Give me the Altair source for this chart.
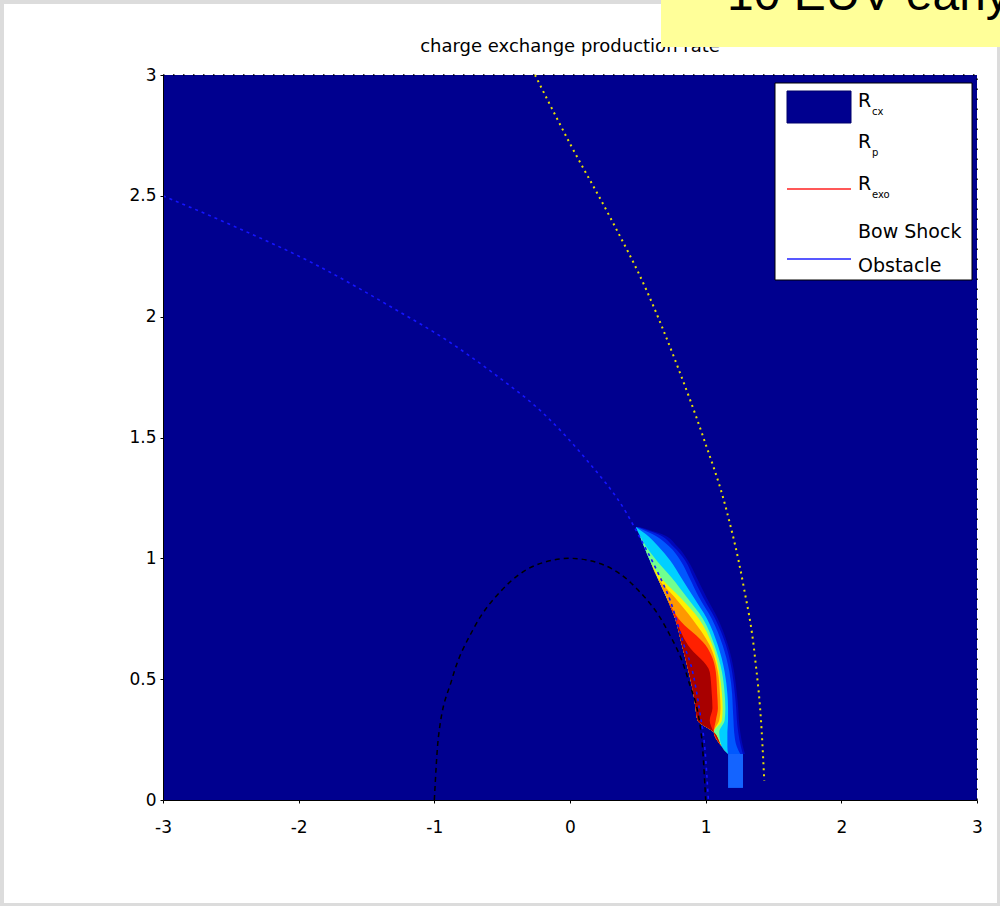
import altair as alt
import pandas as pd

# ---- axis ticks ----
x_ticks = [-3, -2, -1, 0, 1, 2, 3]
y_ticks = [0, 0.5, 1, 1.5, 2, 2.5, 3]

# ---- planet surface R_p ----
planet_x = [-1.0, -0.97, -0.87, -0.71, -0.5, -0.26, 0.0, 0.26, 0.5, 0.71, 0.87, 0.97, 1.0]
planet_y = [0.0, 0.26, 0.5, 0.71, 0.87, 0.97, 1.0, 0.97, 0.87, 0.71, 0.5, 0.26, 0.0]

# ---- obstacle boundary ----
obstacle_x = [-3.0, -2.48, -1.87, -1.30, -0.91, -0.565, -0.197, 0.123, 0.418,
              0.516, 0.651, 0.737, 0.835, 0.909, 0.958, 0.995, 1.02]
obstacle_y = [2.50, 2.375, 2.214, 2.034, 1.903, 1.766, 1.600, 1.407, 1.186,
              1.085, 0.937, 0.828, 0.65, 0.518, 0.36, 0.207, 0.0]

# ---- bow shock ----
bow_x = [-0.258, 0.0, 0.295, 0.565, 0.786, 0.983, 1.155, 1.277, 1.364, 1.413, 1.432]
bow_y = [3.0, 2.716, 2.412, 2.108, 1.804, 1.50, 1.196, 0.892, 0.588, 0.283, 0.08]

# ---- charge exchange production rate: contour bands ----
# each band spans from the inner edge to the outer x of its level, per row y
band_y = [1.13, 1.10, 1.05, 0.99, 0.92, 0.84, 0.75, 0.64, 0.53, 0.44, 0.38, 0.33, 0.28, 0.22, 0.19]
band_inner = [0.485, 0.51, 0.545, 0.59, 0.645, 0.71, 0.775, 0.825, 0.875, 0.91, 0.925, 0.94, 1.06, 1.12, 1.165]
band_levels = [0.04, 0.08, 0.2, 0.33, 0.47, 0.6, 0.72, 0.85, 0.95]
band_outer = [
    [0.51, 0.68, 0.79, 0.87, 0.935, 1.005, 1.09, 1.165, 1.21, 1.23, 1.24, 1.245, 1.255, 1.275, 1.29],
    [0.50, 0.65, 0.76, 0.85, 0.91, 0.98, 1.07, 1.15, 1.195, 1.215, 1.225, 1.23, 1.24, 1.26, 1.275],
    [0.49, 0.61, 0.73, 0.815, 0.88, 0.95, 1.045, 1.125, 1.175, 1.195, 1.20, 1.205, 1.21, 1.23, 1.255],
    [0.485, 0.56, 0.65, 0.74, 0.82, 0.91, 1.01, 1.09, 1.14, 1.16, 1.165, 1.165, 1.16, 1.16, 1.165],
    [0.485, 0.51, 0.56, 0.64, 0.75, 0.86, 0.98, 1.065, 1.12, 1.14, 1.145, 1.14, 1.10, 1.12, 1.165],
    [0.485, 0.51, 0.545, 0.59, 0.67, 0.81, 0.95, 1.05, 1.10, 1.12, 1.125, 1.12, 1.06, 1.12, 1.165],
    [0.485, 0.51, 0.545, 0.59, 0.645, 0.77, 0.90, 1.03, 1.09, 1.105, 1.11, 1.10, 1.06, 1.12, 1.165],
    [0.485, 0.51, 0.545, 0.59, 0.645, 0.71, 0.80, 1.00, 1.075, 1.085, 1.09, 1.075, 1.06, 1.12, 1.165],
    [0.485, 0.51, 0.545, 0.59, 0.645, 0.71, 0.775, 0.87, 1.03, 1.045, 1.05, 1.03, 1.06, 1.12, 1.165],
]
band_colors = ["#0006B8", "#0020E0", "#0058FF", "#00D0FF", "#70FF90", "#FFF000",
               "#FF9800", "#FF2000", "#A80000"]

# low-altitude patch near the subsolar surface
patch_x = [1.165, 1.275]
patch_y = [0.05, 0.20]

# ---- legend and text ----
legend_labels = ["R", "R", "R", "Bow Shock", "Obstacle"]
legend_subs = ["cx", "p", "exo", "", ""]
title_text = "charge exchange production rate"
banner_text = "10 EUV early"

FONT = "DejaVu Sans"
W, H = 814, 725
xs = alt.Scale(domain=[-3, 3], nice=False, zero=False)
ys = alt.Scale(domain=[0, 3], nice=False, zero=False)
one = pd.DataFrame({"k": [0]})

# plain hyphen for negative tick labels
LABEL_EXPR = "datum.value < 0 ? '-' + toString(abs(datum.value)) : toString(datum.value)"


def axis(values, pad):
    return alt.Axis(values=values, labelExpr=LABEL_EXPR, title=None, grid=False,
                    domainColor="black", domainWidth=1, tickColor="black",
                    tickSize=3, labelFont=FONT, labelFontSize=17,
                    labelColor="black", labelPadding=pad, labelFlush=False,
                    labelOverlap=False, zindex=1)


AX = axis(x_ticks, 16)
AY = axis(y_ticks, 4)


def X(field):
    return alt.X(field, scale=xs, axis=AX)


def Y(field):
    return alt.Y(field, scale=ys, axis=AY)


layers = []

# white page inside a grey frame
layers.append(alt.Chart(one).mark_rect(color="white").encode(
    x=alt.value(-159), x2=alt.value(834), y=alt.value(-71), y2=alt.value(828)))

# navy field covering the plotting domain
field_df = pd.DataFrame({"x": [x_ticks[0]], "x2": [x_ticks[-1]],
                         "y": [y_ticks[0]], "y2": [y_ticks[-1]]})
layers.append(alt.Chart(field_df).mark_rect(color="#00008F").encode(
    x=X("x:Q"), x2="x2:Q", y=Y("y:Q"), y2="y2:Q"))

# production-rate bands, lowest level first
rows = []
for li, outer in enumerate(band_outer):
    for yy, xi, xo in zip(band_y, band_inner, outer):
        rows.append({"li": li, "y": yy, "xi": xi, "xo": xo})
bands_df = pd.DataFrame(rows)

patch_df = pd.DataFrame({"x": [patch_x[0]], "x2": [patch_x[1]],
                         "y": [patch_y[0]], "y2": [patch_y[1]]})
layers.append(alt.Chart(patch_df).mark_rect(color="#1464FF").encode(
    x=X("x:Q"), x2="x2:Q", y=Y("y:Q"), y2="y2:Q"))

for li, col in enumerate(band_colors):
    layers.append(
        alt.Chart(bands_df)
        .transform_filter(alt.datum.li == li)
        .mark_area(orient="horizontal", interpolate="monotone", color=col)
        .encode(y=Y("y:Q"), x=X("xi:Q"), x2="xo:Q"))


def curve(xv, yv, color, dash, width):
    df = pd.DataFrame({"x": xv, "y": yv, "i": list(range(len(xv)))})
    return alt.Chart(df).mark_line(color=color, strokeDash=dash, strokeWidth=width,
                                   interpolate="monotone").encode(
        x=X("x:Q"), y=Y("y:Q"), order="i:Q")


layers.append(curve(planet_x, planet_y, "black", [5, 4], 1.5))
layers.append(curve(obstacle_x, obstacle_y, "#1414FF", [3, 4], 1.6))
layers.append(curve(bow_x, bow_y, "#E8E000", [2, 4], 2))

# dotted box on top and right
box_df = pd.DataFrame({"x": [x_ticks[0], x_ticks[-1]], "x2": [x_ticks[-1], x_ticks[-1]],
                       "y": [y_ticks[-1], y_ticks[0]], "y2": [y_ticks[-1], y_ticks[-1]]})
layers.append(alt.Chart(box_df).mark_rule(color="black", strokeDash=[1.5, 8.5],
                                          strokeWidth=1.5).encode(
    x=X("x:Q"), x2="x2:Q", y=Y("y:Q"), y2="y2:Q"))

# title
layers.append(alt.Chart(one).mark_text(text=title_text, font=FONT, fontSize=18,
                                       color="black", align="center",
                                       baseline="middle").encode(
    x=alt.value(W / 2), y=alt.value(-28)))

# banner in the top-right corner
layers.append(alt.Chart(one).mark_rect(color="#FFFF99").encode(
    x=alt.value(498), x2=alt.value(860), y=alt.value(-80), y2=alt.value(-28)))
layers.append(alt.Chart(one).mark_text(text=banner_text, font="Liberation Sans",
                                       fontSize=48, color="black", align="left",
                                       baseline="alphabetic").encode(
    x=alt.value(564), y=alt.value(-65.5)))

# legend
layers.append(alt.Chart(one).mark_rect(fill="white", stroke="black", strokeWidth=1).encode(
    x=alt.value(612), x2=alt.value(809), y=alt.value(8), y2=alt.value(205)))
layers.append(alt.Chart(one).mark_rect(fill="#00008F", stroke="#00006A", strokeWidth=1).encode(
    x=alt.value(624), x2=alt.value(688), y=alt.value(16), y2=alt.value(48)))
layers.append(alt.Chart(one).mark_rule(color="#FF2020", strokeWidth=1.5).encode(
    x=alt.value(624), x2=alt.value(688), y=alt.value(114)))
layers.append(alt.Chart(one).mark_rule(color="#2020FF", strokeWidth=1.5).encode(
    x=alt.value(624), x2=alt.value(688), y=alt.value(184)))

row_base = [32, 73, 115, 163, 197]
for lab, sub, yb in zip(legend_labels, legend_subs, row_base):
    layers.append(alt.Chart(one).mark_text(text=lab, font=FONT, fontSize=19,
                                           color="black", align="left",
                                           baseline="alphabetic").encode(
        x=alt.value(695), y=alt.value(yb)))
    if sub:
        layers.append(alt.Chart(one).mark_text(text=sub, font=FONT, fontSize=10,
                                               color="black", align="left",
                                               baseline="alphabetic").encode(
            x=alt.value(709), y=alt.value(yb + 8)))

chart = alt.layer(*layers).properties(
    width=W, height=H,
    padding={"left": 163, "top": 75, "right": 23, "bottom": 106},
    autosize=alt.AutoSizeParams(type="none"),
    background="#DCDCDC",
).configure_view(stroke=None)

chart.save("out.html", embed_options={"renderer": "svg", "actions": False})
